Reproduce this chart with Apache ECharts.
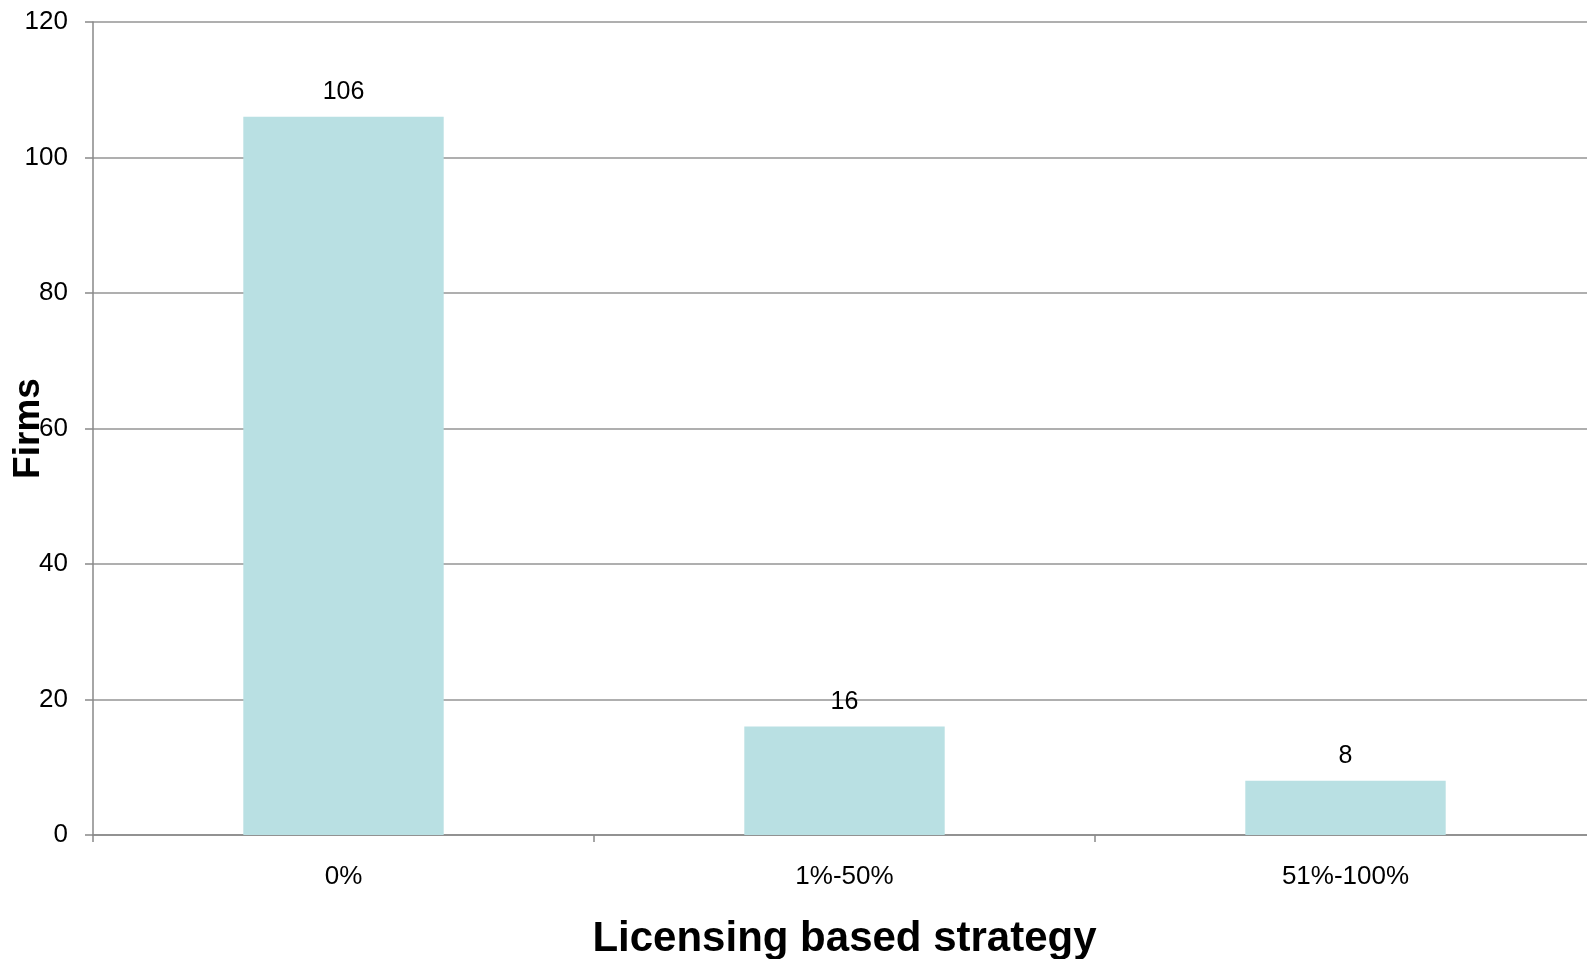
<!DOCTYPE html>
<html>
<head>
<meta charset="utf-8">
<script src="https://cdn.jsdelivr.net/npm/echarts@6/dist/echarts.min.js"></script>
<style>
  html, body { margin: 0; padding: 0; background: #fff; }
  #chart { width: 1587px; height: 959px; }
</style>
</head>
<body>
<div id="chart"></div>
<script>
// 数据
var categories = ['0%', '1%-50%', '51%-100%'];
var firms = [106, 16, 8];
var yTicks = { min: 0, max: 120, interval: 20 };

var font = 'Liberation Sans, Arial, sans-serif';
var axisColor = '#898989';

var chart = echarts.init(document.getElementById('chart'));
chart.setOption({
	animation: false,
	backgroundColor: '#ffffff',
	grid: { left: 93, top: 22, width: 1503, bottom: 124, containLabel: false, outerBoundsMode: 'none' },
	xAxis: {
		type: 'category',
		data: categories,
		name: 'Licensing based strategy',
		nameLocation: 'middle',
		nameGap: 83,
		nameMoveOverlap: false,
		nameTextStyle: { fontFamily: font, fontSize: 42, fontWeight: 'bold', color: '#000' },
		axisLine: { lineStyle: { color: axisColor, width: 1.5 } },
		axisTick: { show: true, length: 7, alignWithLabel: false, lineStyle: { color: axisColor, width: 1.5 } },
		axisLabel: { fontFamily: font, fontSize: 26, color: '#000', margin: 29 }
	},
	yAxis: {
		type: 'value',
		min: yTicks.min,
		max: yTicks.max,
		interval: yTicks.interval,
		name: 'Firms',
		nameLocation: 'middle',
		nameGap: 46,
		nameRotate: 90,
		nameMoveOverlap: false,
		nameTextStyle: { fontFamily: font, fontSize: 37, fontWeight: 'bold', color: '#000' },
		axisLine: { show: true, lineStyle: { color: axisColor, width: 1.5 } },
		axisTick: { show: true, length: 8, lineStyle: { color: axisColor, width: 1.5 } },
		axisLabel: { fontFamily: font, fontSize: 26, color: '#000', margin: 25 },
		splitLine: { show: true, lineStyle: { color: '#959595', width: 1.5 } }
	},
	series: [{
		type: 'bar',
		data: firms,
		barCategoryGap: '60%',
		itemStyle: { color: '#b9e0e3' },
		label: {
			show: true,
			position: 'top',
			distance: 12,
			fontFamily: font,
			fontSize: 25,
			color: '#000'
		}
	}]
});
</script>
</body>
</html>
